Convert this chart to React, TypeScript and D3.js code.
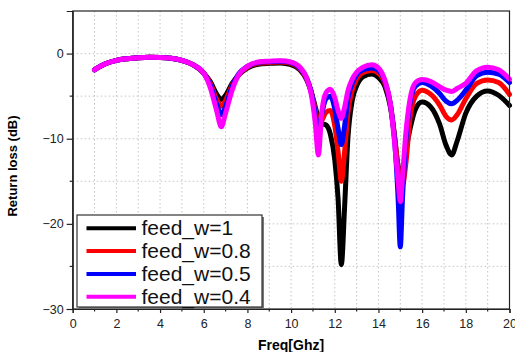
import * as d3 from 'd3';
import { useEffect, useRef } from 'react';

// frequency samples (GHz) shared by all four traces
const freqs = [
  1, 1.5, 2, 2.5, 3, 3.5, 4, 4.5, 5, 5.5, 6, 6.3, 6.6, 6.8, 7.0, 7.3, 7.6, 8, 8.5, 9, 9.5, 10,
  10.4, 10.7, 10.9, 11.1, 11.25, 11.4, 11.6, 11.8, 12.0, 12.15, 12.3, 12.45, 12.6, 12.8, 13.0,
  13.3, 13.7, 14.0, 14.3, 14.55, 14.75, 14.9, 15.0, 15.1, 15.25, 15.45, 15.7, 16.0, 16.4, 16.8,
  17.1, 17.35, 17.6, 18.0, 18.5, 19.0, 19.5, 20,
];

const feedW1 = [
  -1.9, -1.2, -0.8, -0.6, -0.48, -0.42, -0.45, -0.55, -0.8, -1.3, -2.3, -3.3, -4.8, -5.4, -4.9, -3.5, -2.5, -1.7, -1.25, -1.15, -1.1, -1.3,
  -1.9, -3.0, -4.3, -6.2, -7.6, -8.2, -8.4, -9.5, -12.5, -17, -24.8, -18, -10, -5.5, -3.8,
  -2.7, -2.4, -2.8, -3.9, -6.3, -10, -13.2, -13.8, -14.0, -11.5, -8.8, -6.5, -5.7, -6.3, -8.3,
  -10.8, -11.9, -10.3, -7.0, -5.0, -4.4, -4.9, -6.1,
];

const feedW08 = [
  -1.9, -1.2, -0.8, -0.6, -0.48, -0.42, -0.45, -0.55, -0.8, -1.3, -2.3, -3.5, -5.4, -6.2, -5.5, -3.7, -2.5, -1.6, -1.15, -1.05, -1.0, -1.15,
  -1.8, -2.9, -4.3, -6.5, -8.3, -7.9, -6.9, -6.7, -8.5, -11.5, -15.0, -11.5, -7.0, -4.3, -3.0,
  -2.2, -2.0, -2.3, -3.5, -6.0, -10, -13.5, -14.8, -15.5, -13.0, -7.5, -5.0, -4.3, -4.8, -6.05,
  -7.4, -7.8, -7.2, -5.3, -3.5, -3.1, -3.4, -4.8,
];

const feedW05 = [
  -1.9, -1.2, -0.8, -0.6, -0.48, -0.42, -0.45, -0.55, -0.8, -1.3, -2.3, -3.7, -6.0, -7.2, -6.2, -3.9, -2.4, -1.5, -1.05, -0.95, -0.9, -1.05,
  -1.7, -2.8, -4.3, -7.0, -9.5, -7.2, -5.3, -5.0, -6.5, -8.8, -10.7, -8.5, -5.3, -3.5, -2.5,
  -1.9, -1.7, -2.0, -3.3, -6.0, -10.5, -17, -22.7, -17, -10.5, -5.8, -3.8, -3.4, -3.8, -4.7,
  -5.6, -5.9, -5.5, -4.3, -2.6, -2.2, -2.4, -3.4,
];

const feedW04 = [
  -1.9, -1.2, -0.8, -0.6, -0.48, -0.42, -0.45, -0.55, -0.8, -1.3, -2.3, -4.0, -6.8, -8.6, -7.0, -4.3, -2.5, -1.5, -1.0, -0.9, -0.85, -1.0,
  -1.6, -2.8, -4.5, -8.0, -11.9, -7.0, -4.6, -4.2, -5.2, -6.7, -7.6, -6.3, -4.4, -3.0, -2.2,
  -1.6, -1.3, -1.7, -3.2, -6.0, -10.8, -15, -17.4, -14.5, -9.5, -5.3, -3.4, -3.05, -3.3, -3.9,
  -4.3, -4.45, -4.1, -3.5, -2.0, -1.6, -1.9, -3.0,
];

const seriesNames = ['feed_w=1', 'feed_w=0.8', 'feed_w=0.5', 'feed_w=0.4'];
const seriesValues = [feedW1, feedW08, feedW05, feedW04];
const seriesColors = ['#000000', '#ff0000', '#0000ff', '#ff00ff'];

const xTicks = [0, 2, 4, 6, 8, 10, 12, 14, 16, 18, 20];
const yTicks = [-30, -20, -10, 0];

export default function App() {
  const ref = useRef<SVGSVGElement | null>(null);

  useEffect(() => {
    const svg = d3.select(ref.current);
    svg.selectAll('*').remove();
    const width = 515;
    const height = 352;
    const margin = { top: 11, right: 5.5, bottom: 43, left: 72.7 };
    const innerW = width - margin.left - margin.right;
    const innerH = height - margin.top - margin.bottom;
    const font = 'Liberation Sans, Arial, sans-serif';

    svg.append('rect').attr('width', width).attr('height', height).attr('fill', '#fff');
    const g = svg.append('g').attr('transform', `translate(${margin.left},${margin.top})`);

    const x = d3.scaleLinear().domain([0, 20]).range([0, innerW]);
    const y = d3.scaleLinear().domain([-30, 5]).range([innerH, 0]);

    // dotted grid: every 1 GHz, every 5 dB
    const grid = g.append('g');
    grid
      .selectAll('line.gx')
      .data(d3.range(1, 20))
      .enter()
      .append('line')
      .attr('x1', (d) => x(d))
      .attr('x2', (d) => x(d))
      .attr('y1', 0)
      .attr('y2', innerH)
      .attr('stroke', '#c4c4c4')
      .attr('stroke-dasharray', '1.5,2.5');
    grid
      .selectAll('line.gy')
      .data(d3.range(-25, 5, 5))
      .enter()
      .append('line')
      .attr('x1', 0)
      .attr('x2', innerW)
      .attr('y1', (d) => y(d))
      .attr('y2', (d) => y(d))
      .attr('stroke', '#c4c4c4')
      .attr('stroke-dasharray', '1.5,2.5');

    // curves
    const line = d3
      .line<[number, number]>()
      .x((d) => x(d[0]))
      .y((d) => y(d[1]))
      .curve(d3.curveMonotoneX);
    seriesValues.forEach((vals, i) => {
      g.append('path')
        .datum(freqs.map((f, j) => [f, vals[j]] as [number, number]))
        .attr('d', line)
        .attr('fill', 'none')
        .attr('stroke', seriesColors[i])
        .attr('stroke-width', 5)
        .attr('stroke-linejoin', 'round')
        .attr('stroke-linecap', 'round');
    });

    // frame
    g.append('rect')
      .attr('width', innerW)
      .attr('height', innerH)
      .attr('fill', 'none')
      .attr('stroke', '#222')
      .attr('stroke-width', 1.2);

    // axes
    const xAxis = g
      .append('g')
      .attr('transform', `translate(0,${innerH})`)
      .call(d3.axisBottom(x).tickValues(xTicks).tickSize(4).tickPadding(6).tickFormat(d3.format('d')));
    const yAxis = g
      .append('g')
      .call(d3.axisLeft(y).tickValues(yTicks).tickSize(6).tickPadding(3).tickFormat(d3.format('d')));
    [xAxis, yAxis].forEach((ax) => {
      ax.select('.domain').attr('stroke', '#222').attr('stroke-width', 1.2);
      ax.selectAll('line').attr('stroke', '#222').attr('stroke-width', 1.2);
      ax.selectAll('text').attr('font-size', 12.5).attr('font-family', font).attr('fill', '#222');
    });
    // minor ticks
    g.append('g')
      .selectAll('line')
      .data(d3.range(1, 20, 2))
      .enter()
      .append('line')
      .attr('x1', (d) => x(d))
      .attr('x2', (d) => x(d))
      .attr('y1', innerH)
      .attr('y2', innerH + 2.5)
      .attr('stroke', '#222')
      .attr('stroke-width', 1.2);
    g.append('g')
      .selectAll('line')
      .data([-25, -15, -5])
      .enter()
      .append('line')
      .attr('x1', -3)
      .attr('x2', 0)
      .attr('y1', (d) => y(d))
      .attr('y2', (d) => y(d))
      .attr('stroke', '#222')
      .attr('stroke-width', 1.2);

    // axis titles
    svg.append('text')
      .attr('x', margin.left + innerW / 2)
      .attr('y', 350)
      .attr('text-anchor', 'middle')
      .attr('font-family', font)
      .attr('font-weight', 'bold')
      .attr('font-size', 14)
      .text('Freq[Ghz]');
    svg.append('text')
      .attr('transform', 'translate(16.5,166) rotate(-90)')
      .attr('text-anchor', 'middle')
      .attr('font-family', font)
      .attr('font-weight', 'bold')
      .attr('font-size', 13)
      .text('Return loss (dB)');

    // Legend
    const legend = svg.append('g').attr('transform', 'translate(77,215)');
    legend.append('rect').attr('x', 2).attr('y', 2).attr('width', 185).attr('height', 92).attr('fill', '#777');
    legend.append('rect').attr('width', 185).attr('height', 92).attr('fill', '#fff').attr('stroke', '#333').attr('stroke-width', 1.2);
    const rows = legend
      .selectAll('g.row')
      .data(seriesNames)
      .enter()
      .append('g')
      .attr('class', 'row')
      .attr('transform', (_, i) => `translate(0,${13.3 + i * 22.8})`);
    rows
      .append('line')
      .attr('x1', 9.5)
      .attr('x2', 59)
      .attr('stroke', (_, i) => seriesColors[i])
      .attr('stroke-width', 4);
    rows
      .append('text')
      .attr('x', 64.5)
      .attr('y', 7)
      .attr('font-family', font)
      .attr('font-size', 21)
      .attr('fill', '#111')
      .text((d) => d);
  }, []);

  return (
    <svg
      ref={ref}
      width={515}
      height={352}
      style={{ position: 'absolute', left: 0, top: 0 }}
      role="img"
      aria-label="Return loss chart"
    />
  );
}
